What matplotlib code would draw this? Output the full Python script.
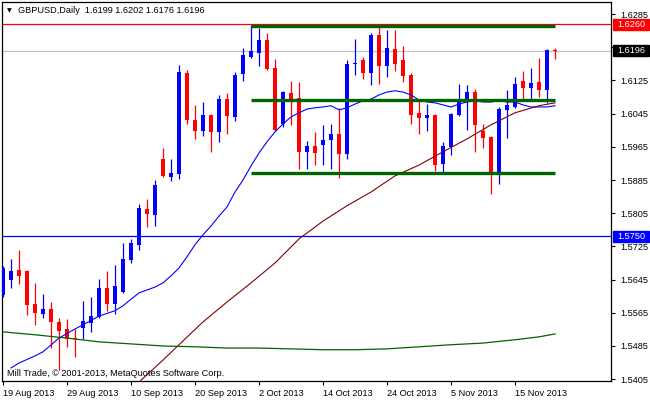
import matplotlib
matplotlib.use("Agg")
import matplotlib.pyplot as plt
import matplotlib.transforms as mtransforms
from matplotlib.patches import Rectangle

# GBPUSD daily candles, 19 Aug 2013 .. 22 Nov 2013
opens = [1.5608, 1.5644, 1.5668, 1.5666, 1.5586, 1.5562, 1.5574, 1.5543, 1.5526, 1.5504,
         1.5529, 1.5541, 1.5555, 1.5625, 1.5586, 1.5615, 1.5692, 1.5729, 1.5815, 1.5801,
         1.5936, 1.5892, 1.5900, 1.6143, 1.6030, 1.6003, 1.6042, 1.6001, 1.6080, 1.6037,
         1.6141, 1.6182, 1.6191, 1.6223, 1.6155, 1.6020, 1.6095, 1.6083, 1.5953, 1.5967,
         1.5970, 1.5982, 1.5996, 1.5948, 1.6165, 1.6174, 1.6143, 1.6235, 1.6160, 1.6201,
         1.6174, 1.6138, 1.6047, 1.6035, 1.6042, 1.5924, 1.5965, 1.6042, 1.6078, 1.6097,
         1.6003, 1.5989, 1.5902, 1.6054, 1.6061, 1.6124, 1.6107, 1.6121, 1.6102, 1.6199]
highs = [1.5678, 1.5695, 1.5717, 1.5668, 1.5637, 1.5610, 1.5591, 1.5553, 1.5550, 1.5526,
         1.5594, 1.5603, 1.5647, 1.5666, 1.5680, 1.5733, 1.5743, 1.5827, 1.5839, 1.5885,
         1.5962, 1.5936, 1.6162, 1.6150, 1.6066, 1.6073, 1.6044, 1.6090, 1.6095, 1.6146,
         1.6203, 1.6259, 1.6252, 1.6240, 1.6177, 1.6100, 1.6124, 1.6121, 1.5979, 1.6001,
         1.6018, 1.6020, 1.6059, 1.6174, 1.6225, 1.6182, 1.6240, 1.6256, 1.6247, 1.6247,
         1.6208, 1.6143, 1.6080, 1.6068, 1.6045, 1.5977, 1.6046, 1.6117, 1.6114, 1.6105,
         1.6020, 1.5991, 1.6061, 1.6102, 1.6133, 1.6148, 1.6155, 1.6179, 1.6201, 1.6202]
lows = [1.5603, 1.5625, 1.5635, 1.5560, 1.5536, 1.5553, 1.5480, 1.5427, 1.5483, 1.5459,
        1.5502, 1.5519, 1.5553, 1.5570, 1.5562, 1.5613, 1.5685, 1.5717, 1.5772, 1.5774,
        1.5892, 1.5883, 1.5888, 1.6020, 1.5984, 1.5991, 1.5953, 1.5977, 1.5996, 1.6027,
        1.6124, 1.6179, 1.6160, 1.6150, 1.6004, 1.6013, 1.6018, 1.5912, 1.5912, 1.5921,
        1.5921, 1.5912, 1.5890, 1.5936, 1.6138, 1.6129, 1.6114, 1.6117, 1.6133, 1.6148,
        1.6121, 1.6020, 1.5996, 1.6003, 1.5907, 1.5900, 1.5945, 1.6040, 1.6006, 1.5953,
        1.5962, 1.5851, 1.5876, 1.5986, 1.6059, 1.6080, 1.6080, 1.6085, 1.6071, 1.6176]
closes = [1.5673, 1.5666, 1.5654, 1.5584, 1.5565, 1.5574, 1.5543, 1.5521, 1.5502, 1.5502,
          1.5545, 1.5557, 1.5625, 1.5586, 1.5630, 1.5695, 1.5733, 1.5818, 1.5803, 1.5873,
          1.5895, 1.5902, 1.6146, 1.6030, 1.6003, 1.6042, 1.6001, 1.6080, 1.6039, 1.6138,
          1.6186, 1.6196, 1.6223, 1.6153, 1.6006, 1.6097, 1.6080, 1.5953, 1.5967, 1.5950,
          1.5982, 1.5996, 1.5948, 1.6165, 1.6167, 1.6143, 1.6235, 1.6160, 1.6203, 1.6165,
          1.6136, 1.6042, 1.6035, 1.6042, 1.5921, 1.5967, 1.6044, 1.6080, 1.6097, 1.6018,
          1.5986, 1.5900, 1.6056, 1.6066, 1.6117, 1.6107, 1.6119, 1.6102, 1.6199, 1.6196]

date_pos = [0, 8, 16, 24, 32, 40, 48, 56, 64]
date_labels = ["19 Aug 2013", "29 Aug 2013", "10 Sep 2013", "20 Sep 2013", "2 Oct 2013",
               "14 Oct 2013", "24 Oct 2013", "5 Nov 2013", "15 Nov 2013"]
price_ticks = [1.5405, 1.5485, 1.5565, 1.5645, 1.5725, 1.5805, 1.5885, 1.5965,
               1.6045, 1.6125, 1.6205, 1.6285]

# moving averages (bar index, value)
ma_fast_idx = [1, 2, 4, 5, 7, 9, 10, 12, 14, 15, 17, 19, 20, 21, 22, 23, 24, 25, 26, 27,
               28, 29, 30, 31, 32, 33, 34, 35, 36, 37, 38, 39, 40, 41, 42, 43, 44, 45, 46,
               47, 48, 49, 50, 51, 52, 53, 54, 55, 56, 57, 58, 59, 60, 61, 62, 63, 64, 65,
               66, 67, 68, 69]
ma_fast = [1.5432, 1.5444, 1.5461, 1.5471, 1.5504, 1.5526, 1.5536, 1.5557, 1.5570, 1.5582,
           1.5613, 1.5627, 1.5637, 1.5654, 1.5673, 1.5700, 1.5729, 1.5753, 1.5774, 1.5798,
           1.5820, 1.5856, 1.5885, 1.5919, 1.5950, 1.5977, 1.6001, 1.6020, 1.6037, 1.6047,
           1.6056, 1.6059, 1.6061, 1.6064, 1.6054, 1.6059, 1.6068, 1.6076, 1.6080, 1.6090,
           1.6097, 1.6100, 1.6097, 1.6090, 1.6078, 1.6073, 1.6071, 1.6066, 1.6061, 1.6068,
           1.6073, 1.6076, 1.6073, 1.6073, 1.6076, 1.6073, 1.6073, 1.6066, 1.6061, 1.6061,
           1.6061, 1.6064]
ma_mid_idx = [17, 20, 22, 25, 28, 31, 34, 37, 40, 43, 46, 49, 52, 55, 58, 61, 64, 67, 69]
ma_mid = [1.5398, 1.5451, 1.5488, 1.5543, 1.5591, 1.5637, 1.5685, 1.5743, 1.5786, 1.5823,
          1.5856, 1.5895, 1.5921, 1.5953, 1.5984, 1.6018, 1.6047, 1.6064, 1.6071]
ma_slow_idx = [0, 4, 8, 12, 16, 20, 24, 28, 32, 36, 40, 44, 48, 52, 56, 60, 64, 67, 69]
ma_slow = [1.5519, 1.5512, 1.5504, 1.5495, 1.5490, 1.5485, 1.5483, 1.5480, 1.5480, 1.5478,
           1.5476, 1.5476, 1.5478, 1.5483, 1.5488, 1.5492, 1.5500, 1.5507, 1.5514]

# drawn objects
levels = [1.6255, 1.6078, 1.5902]
level_start, level_end = 31, 69
resist = 1.6260
support = 1.5750
bid = 1.6196

W, H = 650, 400
fig = plt.figure(figsize=(W / 100, H / 100), dpi=100)
ax = fig.add_axes([2 / W, 19 / H, 609 / W, 379 / H])
ax.set_xlim(-0.125, 76)
ax.set_ylim(1.54006, 1.6314)

fs = 6.6
fam = "Liberation Sans"

# candles
for i in range(len(opens)):
    o, h, l, c = opens[i], highs[i], lows[i], closes[i]
    col = "#0000ff" if c >= o else "#ff0000"
    ax.vlines(i, l, h, color=col, linewidth=0.9, zorder=3)
    lo = min(o, c)
    ht = max(abs(c - o), 0.00025)
    ax.bar(i, ht, bottom=lo, width=0.62, color=col, linewidth=0, zorder=4)

ax.plot(ma_fast_idx, ma_fast, color="#0000ff", linewidth=0.8, zorder=5)
ax.plot(ma_mid_idx, ma_mid, color="#800000", linewidth=0.8, zorder=5)
ax.plot(ma_slow_idx, ma_slow, color="#006400", linewidth=0.9, zorder=5)

for lv in levels:
    ax.hlines(lv, level_start, level_end, color="#006400", linewidth=2.4, zorder=6)

ax.axhline(resist, color="#ff0000", linewidth=0.9, zorder=2)
ax.axhline(bid, color="#c0c0c0", linewidth=0.9, zorder=1)
ax.axhline(support, color="#0000ff", linewidth=0.9, zorder=2)

# axes styling
for s in ax.spines.values():
    s.set_color("black")
    s.set_linewidth(0.9)
ax.yaxis.tick_right()
ax.set_yticks(price_ticks)
ax.set_yticklabels(["%.4f" % p for p in price_ticks], fontsize=fs, family=fam)
ax.tick_params(axis="y", length=3, pad=4, width=0.8)
ax.set_xticks(date_pos)
ax.set_xticklabels(date_labels, fontsize=fs, family=fam)
ax.tick_params(axis="x", length=3, pad=2.5, width=0.8)
for lab in ax.get_xticklabels():
    lab.set_ha("left")

# price boxes on the scale
trans = mtransforms.blended_transform_factory(ax.transAxes, ax.transData)
for p, col in [(resist, "#ff0000"), (bid, "black"), (support, "#0000ff")]:
    ax.add_patch(Rectangle((1 + 1.5 / 609, p - 5.5 / 4150), 36 / 609, 11 / 4150,
                           transform=trans, clip_on=False, color=col, zorder=10))
    ax.text(1 + 6 / 609, p, "%.4f" % p, transform=trans, color="white", fontsize=fs,
            family=fam, va="center", ha="left", zorder=11, clip_on=False)

fig.text(7 / W, 1 - 10.5 / H, "\u25bc", fontsize=4.5, va="center", ha="left")
fig.text(18 / W, 1 - 10.5 / H, "GBPUSD,Daily  %.4f %.4f %.4f %.4f" %
         (opens[-1], highs[-1], lows[-1], closes[-1]), fontsize=fs, family=fam,
         va="center", ha="left")
fig.text(7 / W, 1 - 374 / H, "Mill Trade, \u00a9 2001-2013, MetaQuotes Software Corp.",
         fontsize=fs, family=fam, va="center", ha="left")

fig.savefig("out.png", dpi=100, facecolor="white")
